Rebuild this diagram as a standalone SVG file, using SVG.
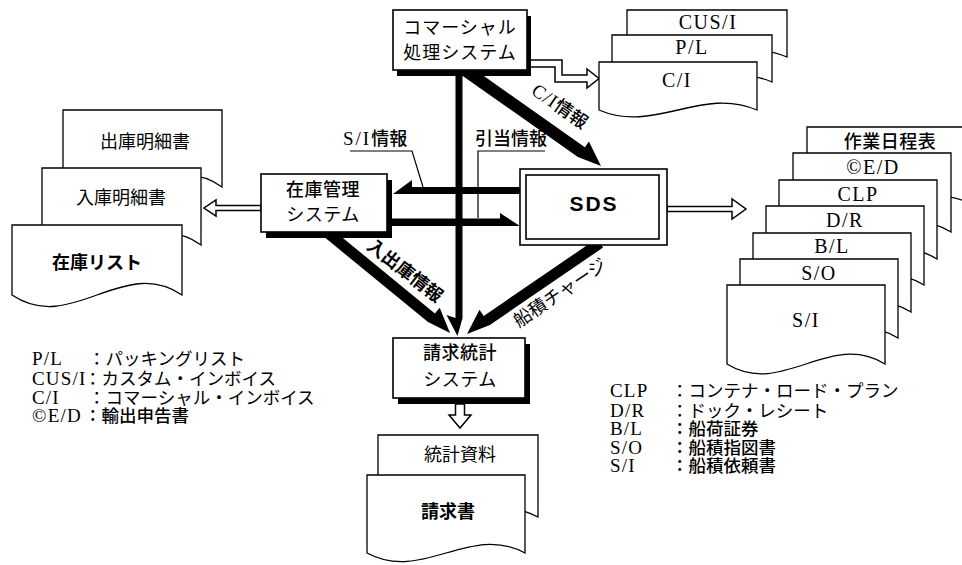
<svg xmlns="http://www.w3.org/2000/svg" width="962" height="565" viewBox="0 0 962 565">
<style>
.box{fill:#fff;stroke:#000;stroke-width:1.6}
.sh{fill:#000}
.doc{fill:#fff;stroke:#000;stroke-width:1.3;stroke-linejoin:miter}
.bar{fill:#000}
.hol{fill:#fff;stroke:#000;stroke-width:1.5;stroke-linejoin:miter}
.ld{fill:none;stroke:#000;stroke-width:1.2}
.jp{font-family:"Noto Sans CJK JP","Noto Sans",sans-serif;font-size:18px;fill:#000}
.lt{font-family:"Liberation Serif","Noto Sans CJK JP",serif;font-size:20px;fill:#000;letter-spacing:1.5px}
.sf{font-family:"Liberation Serif",serif}
.c{text-anchor:middle}
.b{font-weight:700}
.m{font-weight:500}
.lg{font-family:"Liberation Serif",serif;font-size:19px;letter-spacing:1.2px}
.lj{font-family:"Noto Sans CJK JP",sans-serif;font-size:17.5px}
</style>
<rect width="962" height="565" fill="#fff"/>

<g id="connectors">
  <polygon class="bar" points="455.5,72 462.5,72 462.5,318 457.5,336 446.5,315 455.5,318"/>
  <polygon class="bar" points="465.5,63.1 584.9,147.3 588.9,141.6 601,166 577.9,157.1 458.5,72.9"/>
  <polygon class="bar" points="325.5,223.7 434.9,313.5 439.7,307.8 450,333 428,322.1 318.5,232.3"/>
  <polygon class="bar" points="596.9,238.5 483.7,315.9 479.5,309.7 467,334 489.9,324.9 603.1,247.5"/>
  <polygon class="bar" points="520,187 412,187 412,180 393,194 520,194"/>
  <polygon class="bar" points="392,218.5 500,218.5 500,213 520,226 392,226"/>

  <polygon class="hol" points="527,60 562,60 562,75 587,75 587,69 599,78.5 587,88 587,82 555,82 555,67 527,67"/>
  <polygon class="hol" points="261,205.5 216,205.5 216,200 204,208 216,216 216,210.5 261,210.5"/>
  <polygon class="hol" points="667,206.5 732,206.5 732,199 746,209 732,219 732,211.5 667,211.5"/>
  <polygon class="hol" points="455.5,404 455.5,415 449,415 460,428 471,415 464.5,415 464.5,404"/>

  <polyline class="ld" points="350,151 412,151 423,187"/>
  <polyline class="ld" points="545,151 478,151 478,218"/>

  <text class="jp m" x="343" y="145" font-size="18"><tspan class="sf" font-size="19" letter-spacing="2">S/I</tspan>情報</text>
  <text class="jp m" x="475" y="145" font-size="17.5">引当情報</text>
  <text class="jp m c" transform="translate(560,106) rotate(35)" y="6.5" font-size="17.5"><tspan class="sf" font-size="19" letter-spacing="1">C/I</tspan>情報</text>
  <text class="jp b c" transform="translate(405,271) rotate(38)" y="6" font-size="16.5">入出庫情報</text>
  <text class="jp c" transform="translate(560,293) rotate(-34)" y="6" font-size="17">船積チャージ</text>
</g>

<g id="commercial">
  <rect class="sh" x="397" y="16" width="134" height="60"/>
  <rect class="box" x="393" y="10" width="134" height="60"/>
  <text class="jp c" x="460" y="34" font-size="17" letter-spacing="1">コマーシャル</text>
  <text class="jp c" x="460" y="59" font-size="17" letter-spacing="1">処理システム</text>
</g>

<g id="zaiko">
  <rect class="sh" x="266" y="180" width="126" height="58"/>
  <rect class="box" x="261" y="174" width="126" height="58"/>
  <text class="jp m c" x="323" y="196" letter-spacing="0.5">在庫管理</text>
  <text class="jp c" x="323" y="221" letter-spacing="0.5">システム</text>
</g>

<g id="sds">
  <rect class="box" x="520" y="169" width="147" height="76"/>
  <rect class="box" x="526" y="175" width="133" height="64"/>
  <text x="594" y="211" text-anchor="middle" font-family="Liberation Sans, Arial, sans-serif" font-weight="700" font-size="21" letter-spacing="2">SDS</text>
</g>

<g id="seikyu">
  <rect class="sh" x="398" y="344" width="132" height="60"/>
  <rect class="box" x="393" y="338" width="132" height="60"/>
  <text class="jp m c" x="460" y="359" letter-spacing="0.5">請求統計</text>
  <text class="jp c" x="460" y="386" letter-spacing="0.5">システム</text>
</g>

<g id="ci-docs">
  <g id="doc-cusi">
    <path class="doc" d="M627,10 H787 V57 C731,33 683,81 627,57 Z"/>
    <text class="lt c" x="708" y="29">CUS/I</text>
  </g>
  <g id="doc-pl">
    <path class="doc" d="M612,35 H772 V82 C716,58 668,106 612,82 Z"/>
    <text class="lt c" x="692" y="54">P/L</text>
  </g>
  <g id="doc-ci">
    <path class="doc" d="M599,62 H757 V110 C701.7,86 654.3,134 599,110 Z"/>
    <text class="lt c" x="677" y="87">C/I</text>
  </g>
</g>

<g id="stock-docs">
  <g id="doc-shukko">
    <path class="doc" d="M63,110 H222 V187 C166.4,147 118.7,227 63,187 Z"/>
    <text class="jp c" x="145" y="148">出庫明細書</text>
  </g>
  <g id="doc-nyuko">
    <path class="doc" d="M42,168 H201 V245 C145.4,205 97.7,285 42,245 Z"/>
    <text class="jp c" x="121" y="204">入庫明細書</text>
  </g>
  <g id="doc-zaiko-list">
    <path class="doc" d="M12,225 H182 V295 C122.5,255 71.5,335 12,295 Z"/>
    <text class="jp b c" x="97" y="269">在庫リスト</text>
  </g>
</g>

<g id="sds-docs">
  <g id="doc-sagyo">
    <path class="doc" d="M807,127 H975 V206 C916,172 866,240 807,206 Z"/>
    <text class="jp m c" x="890" y="148" letter-spacing="0.5">作業日程表</text>
  </g>
  <g id="doc-ed">
    <path class="doc" d="M793,153 H951 V232 C895.7,198 848.3,266 793,232 Z"/>
    <text class="lt c" x="873" y="174">©E/D</text>
  </g>
  <g id="doc-clp">
    <path class="doc" d="M779,180 H937 V259 C881.7,225 834.3,293 779,259 Z"/>
    <text class="lt c" x="858" y="201">CLP</text>
  </g>
  <g id="doc-dr">
    <path class="doc" d="M766,206 H924 V285 C868.7,251 821.3,319 766,285 Z"/>
    <text class="lt c" x="845" y="227">D/R</text>
  </g>
  <g id="doc-bl">
    <path class="doc" d="M753,233 H911 V312 C855.7,278 808.3,346 753,312 Z"/>
    <text class="lt c" x="832" y="253">B/L</text>
  </g>
  <g id="doc-so">
    <path class="doc" d="M740,259 H898 V338 C842.7,304 795.3,372 740,338 Z"/>
    <text class="lt c" x="819" y="280">S/O</text>
  </g>
  <g id="doc-si">
    <path class="doc" d="M727,285 H885 V364 C829.7,330 782.3,398 727,364 Z"/>
    <text class="lt c" x="806" y="327">S/I</text>
  </g>
</g>

<g id="billing-docs">
  <g id="doc-tokei">
    <path class="doc" d="M378,435 H538 V517 C482,487 434,547 378,517 Z"/>
    <text class="jp c" x="460" y="461">統計資料</text>
  </g>
  <g id="doc-seikyusho">
    <path class="doc" d="M367,475 H525 V553 C469.7,523 422.3,583 367,553 Z"/>
    <text class="jp b c" x="448" y="518" font-size="19">請求書</text>
  </g>
</g>

<g id="legend-left">
  <text class="lg" x="32" y="365">P/L</text>
  <text class="lj" x="88" y="365">：パッキングリスト</text>
  <text class="lg" x="32" y="385">CUS/I</text>
  <text class="lj" x="84" y="385">：カスタム・インボイス</text>
  <text class="lg" x="32" y="403.5">C/I</text>
  <text class="lj" x="88" y="403.5">：コマーシャル・インボイス</text>
  <text class="lg" x="32" y="422">©E/D</text>
  <text class="lj m" x="84" y="422">：輸出申告書</text>
</g>

<g id="legend-right">
  <text class="lg" x="610" y="397">CLP</text>
  <text class="lj" x="671" y="397">：コンテナ・ロード・プラン</text>
  <text class="lg" x="610" y="416.5">D/R</text>
  <text class="lj" x="671" y="416.5">：ドック・レシート</text>
  <text class="lg" x="610" y="435">B/L</text>
  <text class="lj m" x="671" y="435">：船荷証券</text>
  <text class="lg" x="610" y="453.5">S/O</text>
  <text class="lj m" x="671" y="453.5">：船積指図書</text>
  <text class="lg" x="610" y="472">S/I</text>
  <text class="lj m" x="671" y="472">：船積依頼書</text>
</g>
</svg>
